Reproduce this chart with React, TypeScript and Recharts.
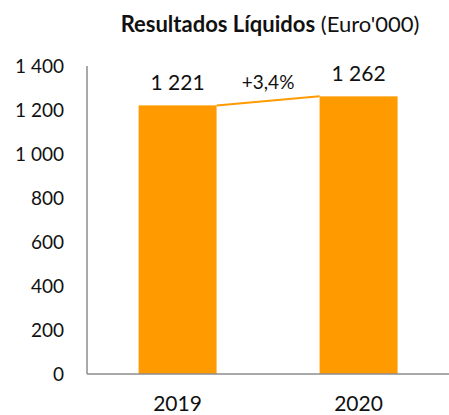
import React from "react";
import { BarChart, Bar, XAxis, YAxis, LabelList } from "recharts";

const categories = ["2019", "2020"];
const netResults = [1221, 1262];
const growthLabel = "+3,4%";
const yTicks = [0, 200, 400, 600, 800, 1000, 1200, 1400];
const titleBold = "Resultados Líquidos";
const titleNormal = " (Euro'000)";

const data = categories.map((c, i) => ({ year: c, value: netResults[i] }));

const ORANGE = "#FF9A00";
const AXIS = "#8c8c8c";
const TEXT = "#111111";
const FONT = "Lato, 'DejaVu Sans', sans-serif";

const fmt = (v: number) => {
  const s = Math.round(v).toString();
  return s.replace(/\B(?=(\d{3})+(?!\d))/g, " ");
};

const geom: { x: number; y: number; width: number }[] = [];

const BarShape = (props: any) => {
  const { x, y, width, height, index } = props;
  geom[index] = { x, y, width };
  const prev = index > 0 ? geom[index - 1] : null;
  return (
    <g>
      <rect x={x} y={y} width={width} height={height} fill={ORANGE} />
      {prev && (
        <g>
          <line
            x1={prev.x + prev.width}
            y1={prev.y}
            x2={x}
            y2={y}
            stroke={ORANGE}
            strokeWidth={2}
          />
          <text
            x={(prev.x + prev.width + x) / 2}
            y={(prev.y + y) / 2 - 12}
            textAnchor="middle"
            fontSize={19}
            fontFamily={FONT}
            fill={TEXT}
          >
            {growthLabel}
          </text>
        </g>
      )}
    </g>
  );
};

export default function App() {
  return (
    <div
      style={{
        position: "absolute",
        left: 0,
        top: 0,
        width: 449,
        height: 415,
        background: "#fff",
        fontFamily: FONT,
      }}
    >
      <div
        style={{
          position: "absolute",
          left: 270,
          top: 11,
          transform: "translateX(-50%)",
          whiteSpace: "nowrap",
          fontSize: 22,
          lineHeight: 1.2,
          color: "#111",
        }}
      >
        <span style={{ fontWeight: 700 }}>{titleBold}</span>
        <span>{titleNormal}</span>
      </div>
      <BarChart
        width={449}
        height={415}
        data={data}
        margin={{ top: 66, right: 0, bottom: 0, left: 0 }}
        barCategoryGap="28.5%"
      >
        <XAxis
          dataKey="year"
          height={41}
          tickLine={false}
          tickSize={0}
          tickMargin={22}
          axisLine={{ stroke: AXIS, strokeWidth: 1.5 }}
          tick={{ fontSize: 21, fill: TEXT, fontFamily: FONT }}
        />
        <YAxis
          width={87}
          domain={[0, 1400]}
          ticks={yTicks}
          interval={0}
          tickLine={false}
          tickSize={0}
          tickMargin={23}
          tickFormatter={fmt}
          axisLine={{ stroke: AXIS, strokeWidth: 1.5 }}
          tick={{ fontSize: 19, fill: TEXT, fontFamily: FONT }}
        />
        <Bar dataKey="value" fill={ORANGE} shape={BarShape} isAnimationActive={false}>
          <LabelList
            dataKey="value"
            position="top"
            offset={15}
            formatter={(v: any) => fmt(Number(v))}
            style={{ fontSize: 21, fill: TEXT, fontFamily: FONT }}
          />
        </Bar>
      </BarChart>
    </div>
  );
}
